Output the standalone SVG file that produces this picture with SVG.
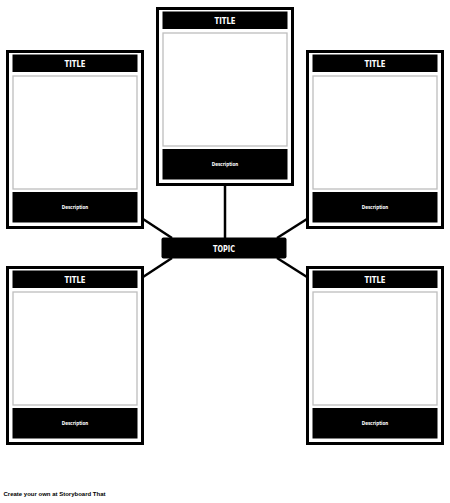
<svg xmlns="http://www.w3.org/2000/svg" width="450" height="503" viewBox="0 0 450 503">
<defs>
<style>
.outer{fill:#fff;stroke:#000;stroke-width:3}
.bar{fill:#000}
.img{fill:#fff;stroke:#bdbdbd;stroke-width:1.3}
.ttl{fill:#fff;font-family:"DejaVu Sans Condensed","DejaVu Sans",sans-serif;font-stretch:condensed;font-weight:bold;font-size:9px;text-anchor:middle}
.dsc{fill:#fff;font-family:"DejaVu Sans Condensed","DejaVu Sans",sans-serif;font-stretch:condensed;font-weight:bold;font-size:5.5px;text-anchor:middle}
.con{stroke:#000;stroke-width:2.5;fill:none}
</style>
<g id="card">
<rect class="outer" x="1.5" y="1.5" width="135" height="176"/>
<rect class="bar" x="6.5" y="4.5" width="125" height="17.5"/>
<rect class="img" x="7" y="26" width="124" height="113"/>
<rect class="bar" x="6.5" y="142" width="125" height="30.5"/>
<text class="ttl" x="69" y="16.5" textLength="21" lengthAdjust="spacingAndGlyphs">TITLE</text>
<text class="dsc" x="69" y="159" textLength="26.5" lengthAdjust="spacingAndGlyphs">Description</text>
</g>
</defs>
<rect width="450" height="503" fill="#fff"/>
<g id="connectors">
<line class="con" x1="225" y1="185" x2="225" y2="238"/>
<line class="con" x1="143" y1="219" x2="172" y2="238"/>
<line class="con" x1="307" y1="219" x2="277" y2="238"/>
<line class="con" x1="143" y1="277" x2="172" y2="258"/>
<line class="con" x1="307" y1="277" x2="277" y2="258"/>
</g>
<g id="card-top"><use href="#card" x="156" y="7"/></g>
<g id="card-left-top"><use href="#card" x="6" y="50"/></g>
<g id="card-right-top"><use href="#card" x="306" y="50"/></g>
<g id="card-left-bottom"><use href="#card" x="6" y="266"/></g>
<g id="card-right-bottom"><use href="#card" x="306" y="266"/></g>
<g id="topic">
<rect x="161.5" y="237.5" width="125" height="21" rx="2" fill="#000"/>
<text class="ttl" x="224" y="251.5" textLength="22" lengthAdjust="spacingAndGlyphs">TOPIC</text>
</g>
<text x="3.5" y="496" font-family="Liberation Sans, Arial, sans-serif" font-weight="bold" font-size="6" fill="#000">Create your own at Storyboard That</text>
</svg>
